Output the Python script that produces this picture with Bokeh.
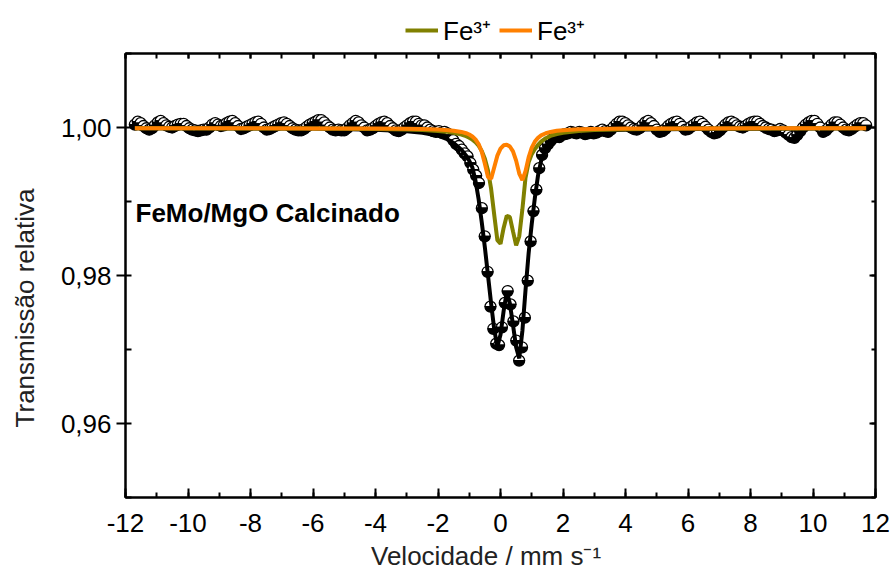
import numpy as np
from bokeh.plotting import figure
from bokeh.layouts import column
from bokeh.models import (Range1d, LinearAxis, SingleIntervalTicker, CustomJSTickFormatter,
                          Legend, LegendItem, Label, ColumnDataSource)
from bokeh.embed import file_html
from bokeh.resources import INLINE

# ---------------- data ----------------
# 256 folded channels, velocity axis (mm/s)
v_first, v_last, n_channels = -11.7, 11.7, 256
velocity = np.linspace(v_first, v_last, n_channels)

dev_e4 = [
    4, 8, 6, 2, -1, -3, -1, 3, 7, 9, 6, 3, 1, 0, 2, 4,
    5, 5, 2, -1, -3, -4, -5, -4, -3, -3, 0, 4, 6, 4, 2, 3,
    6, 8, 9, 6, 2, -2, -1, 1, 3, 5, 7, 8, 5, 0, -3, -2,
    0, 2, 4, 6, 7, 5, 2, -1, -3, -4, -4, -2, 1, 4, 6, 8,
    10, 10, 7, 3, 0, -3, -4, -3, -4, -4, -1, 3, 6, 9, 7, 3,
    0, -4, -3, -1, 2, 5, 7, 8, 6, 2, -1, -4, -5, -3, 0, 3,
    6, 8, 8, 5, 3, 3, 0, -3, -5, -6, -5, -7, -6, -8, -10, -17,
    -22, -25, -30, -35, -39, -48, -57, -65, -75, -109, -147, -195, -242, -272, -292, -294,
    -270, -237, -221, -239, -262, -288, -315, -297, -257, -207, -154, -113, -84, -55, -37, -28,
    -23, -18, -14, -12, -13, -10, -9, -8, -6, -7, -8, -6, -7, -9, -8, -6,
    -8, -7, -5, -3, -5, -6, -3, 1, 5, 8, 8, 6, 3, 0, -2, -3,
    -1, 3, 7, 9, 6, 2, -3, -6, -5, -2, 2, 5, 7, 8, 5, 1,
    -3, -2, 1, 4, 7, 8, 5, 1, -3, -6, -8, -7, -4, 0, 4, 7,
    8, 6, 3, 1, 0, 2, 5, 7, 8, 8, 5, 2, 0, -2, -3, -5,
    -4, -2, -4, -7, -10, -13, -14, -10, -5, 0, 4, 7, 9, 9, 5, 0,
    -6, -4, 0, 4, 7, 7, 4, 0, -3, -4, -2, 1, 4, 6, 6, 3,
]
assert len(dev_e4) == n_channels
transmission = 1 + np.array(dev_e4) * 1e-4

# fitted curves
fit_v = [-11.7, -6, -4, -3, -2.5, -2, -1.75, -1.5, -1.25, -1.1, -1.0, -0.9, -0.8, -0.7,
         -0.6, -0.5, -0.4, -0.3, -0.2, -0.1, 0.0, 0.1, 0.2, 0.3, 0.4, 0.5, 0.6, 0.7, 0.8,
         0.9, 1.0, 1.1, 1.2, 1.3, 1.45, 1.6, 1.8, 2.0, 2.5, 3, 4, 6, 11.7]
fit_total = [0.99990, 0.99985, 0.99970, 0.99950, 0.99930, 0.99890, 0.99850, 0.99790, 0.99700,
             0.99620, 0.99550, 0.99460, 0.99280, 0.99030, 0.98720, 0.98380, 0.98000, 0.97620,
             0.97270, 0.97040, 0.97200, 0.97520, 0.97780, 0.97620, 0.97330, 0.97030, 0.96880,
             0.97250, 0.97800, 0.98300, 0.98700, 0.99050, 0.99350, 0.99550, 0.99720, 0.99810,
             0.99870, 0.99900, 0.99940, 0.99960, 0.99970, 0.99980, 0.99990]
fit_fe3_a = [0.99989, 0.99985, 0.99980, 0.99973, 0.99966, 0.99954, 0.99944, 0.99928, 0.99904,
             0.99882, 0.99862, 0.99836, 0.99801, 0.99753, 0.99683, 0.99579, 0.99419, 0.99170,
             0.98817, 0.98476, 0.98429, 0.98643, 0.98808, 0.98789, 0.98596, 0.98408, 0.98529,
             0.98894, 0.99320, 0.99530, 0.99640, 0.99710, 0.99764, 0.99809, 0.99855, 0.99886,
             0.99912, 0.99930, 0.99954, 0.99966, 0.99977, 0.99985, 0.99989]
fit_fe3_b = [0.99990, 0.99988, 0.99986, 0.99982, 0.99979, 0.99972, 0.99967, 0.99957, 0.99940,
             0.99923, 0.99905, 0.99879, 0.99839, 0.99776, 0.99673, 0.99511, 0.99332, 0.99307,
             0.99463, 0.99620, 0.99715, 0.99760, 0.99768, 0.99743, 0.99677, 0.99552, 0.99378,
             0.99289, 0.99411, 0.99596, 0.99729, 0.99810, 0.99860, 0.99893, 0.99922, 0.99940,
             0.99955, 0.99963, 0.99975, 0.99980, 0.99985, 0.99988, 0.99990]

legend_labels = ["Fe\u00b3\u207a", "Fe\u00b3\u207a"]
x_label = "Velocidade / mm s\u207b\u00b9" + "\u00a0" * 4
y_label = "Transmiss\u00e3o relativa" + "\u00a0" * 9
sample_label = "FeMo/MgO Calcinado"

COL_A = "#808000"
COL_B = "#FF8000"
FONT = "Liberation Sans"

# ---------------- main figure ----------------
p = figure(width=893, height=525, output_backend="svg", toolbar_location=None,
           x_range=Range1d(-12, 12), y_range=Range1d(0.95, 1.01),
           x_axis_type=None, y_axis_type=None,
           min_border_left=125, min_border_right=18, min_border_top=3, min_border_bottom=78)
p.background_fill_color = "white"
p.border_fill_color = "white"
p.outline_line_color = "black"
p.outline_line_width = 2


def style_axis(ax, maj_in, maj_out, min_in, min_out):
    ax.axis_line_width = 2
    ax.axis_line_color = "black"
    ax.major_tick_line_width = 2
    ax.minor_tick_line_width = 2
    ax.major_tick_in = maj_in
    ax.major_tick_out = maj_out
    ax.minor_tick_in = min_in
    ax.minor_tick_out = min_out
    ax.major_label_text_font = FONT
    ax.major_label_text_font_size = "26px"
    ax.major_label_text_color = "black"
    ax.axis_label_text_font = FONT
    ax.axis_label_text_font_size = "26px"
    ax.axis_label_text_font_style = "normal"
    ax.axis_label_text_color = "#222222"


empty_fmt = "return '';"

xb = LinearAxis(ticker=SingleIntervalTicker(interval=2, num_minor_ticks=2),
                formatter=CustomJSTickFormatter(code="return tick.toFixed(0);"),
                axis_label=x_label)
style_axis(xb, 9, 0, 5, 0)
xb.major_label_standoff = 16
xb.axis_label_standoff = 6
p.add_layout(xb, "below")

yl = LinearAxis(ticker=SingleIntervalTicker(interval=0.02, num_minor_ticks=2),
                formatter=CustomJSTickFormatter(code="return tick.toFixed(2).replace('.', ',');"),
                axis_label=y_label)
style_axis(yl, 0, 9, 6, 0)
yl.major_label_standoff = 5
yl.axis_label_standoff = 18
p.add_layout(yl, "left")

xt = LinearAxis(ticker=SingleIntervalTicker(interval=2, num_minor_ticks=2),
                formatter=CustomJSTickFormatter(code=empty_fmt))
style_axis(xt, 5, 0, 5, 0)
xt.major_label_text_font_size = "0px"
xt.major_label_standoff = 0
p.add_layout(xt, "above")

yr = LinearAxis(ticker=SingleIntervalTicker(interval=0.02, num_minor_ticks=2),
                formatter=CustomJSTickFormatter(code=empty_fmt))
style_axis(yr, 6, 0, 4, 0)
yr.major_label_text_font_size = "0px"
yr.major_label_standoff = 0
p.add_layout(yr, "right")

# data points: half-filled circles (white top, black bottom), drawn point by point
n = len(velocity)
pts = ColumnDataSource(dict(
    x=np.repeat(velocity, 2),
    y=np.repeat(transmission, 2),
    a0=np.tile([0.0, np.pi], n),
    a1=np.tile([np.pi, 2 * np.pi], n),
    fc=["white", "black"] * n,
))
p.wedge(x="x", y="y", radius=5.5, radius_units="screen", start_angle="a0", end_angle="a1",
        fill_color="fc", line_color="black", line_width=1.3, source=pts)

# fit curves
p.line(fit_v, fit_total, line_color="black", line_width=4)
p.line(fit_v, fit_fe3_a, line_color=COL_A, line_width=4)
p.line(fit_v, fit_fe3_b, line_color=COL_B, line_width=4)

p.add_layout(Label(x=-11.68, y=0.9884, text=sample_label, text_font=FONT,
                   text_font_style="bold", text_font_size="26px", text_color="black",
                   text_baseline="middle", text_align="left"))

# ---------------- legend strip above the plot ----------------
# same curves, drawn into a y-window where they fall outside the view: only the legend keys show
lg = figure(width=893, height=50, output_backend="svg", toolbar_location=None,
            x_range=Range1d(-12, 12), y_range=Range1d(2, 3),
            x_axis_type=None, y_axis_type=None, min_border=0)
lg.outline_line_color = None
lg.background_fill_color = "white"
lg.border_fill_color = "white"
la = lg.line(fit_v, fit_fe3_a, line_color=COL_A, line_width=4)
lb = lg.line(fit_v, fit_fe3_b, line_color=COL_B, line_width=4)
legend = Legend(items=[LegendItem(label=legend_labels[0], renderers=[la]),
                       LegendItem(label=legend_labels[1], renderers=[lb])],
                orientation="horizontal", location=(280, 2),
                label_text_font=FONT, label_text_font_size="26px", label_text_color="black",
                glyph_width=33, glyph_height=20, label_standoff=5, spacing=8, label_height=25,
                padding=2, margin=0, border_line_color=None, background_fill_alpha=0)
lg.add_layout(legend, "center")

layout = column(lg, p, spacing=0)
open("out.html", "w").write(file_html(layout, INLINE))
